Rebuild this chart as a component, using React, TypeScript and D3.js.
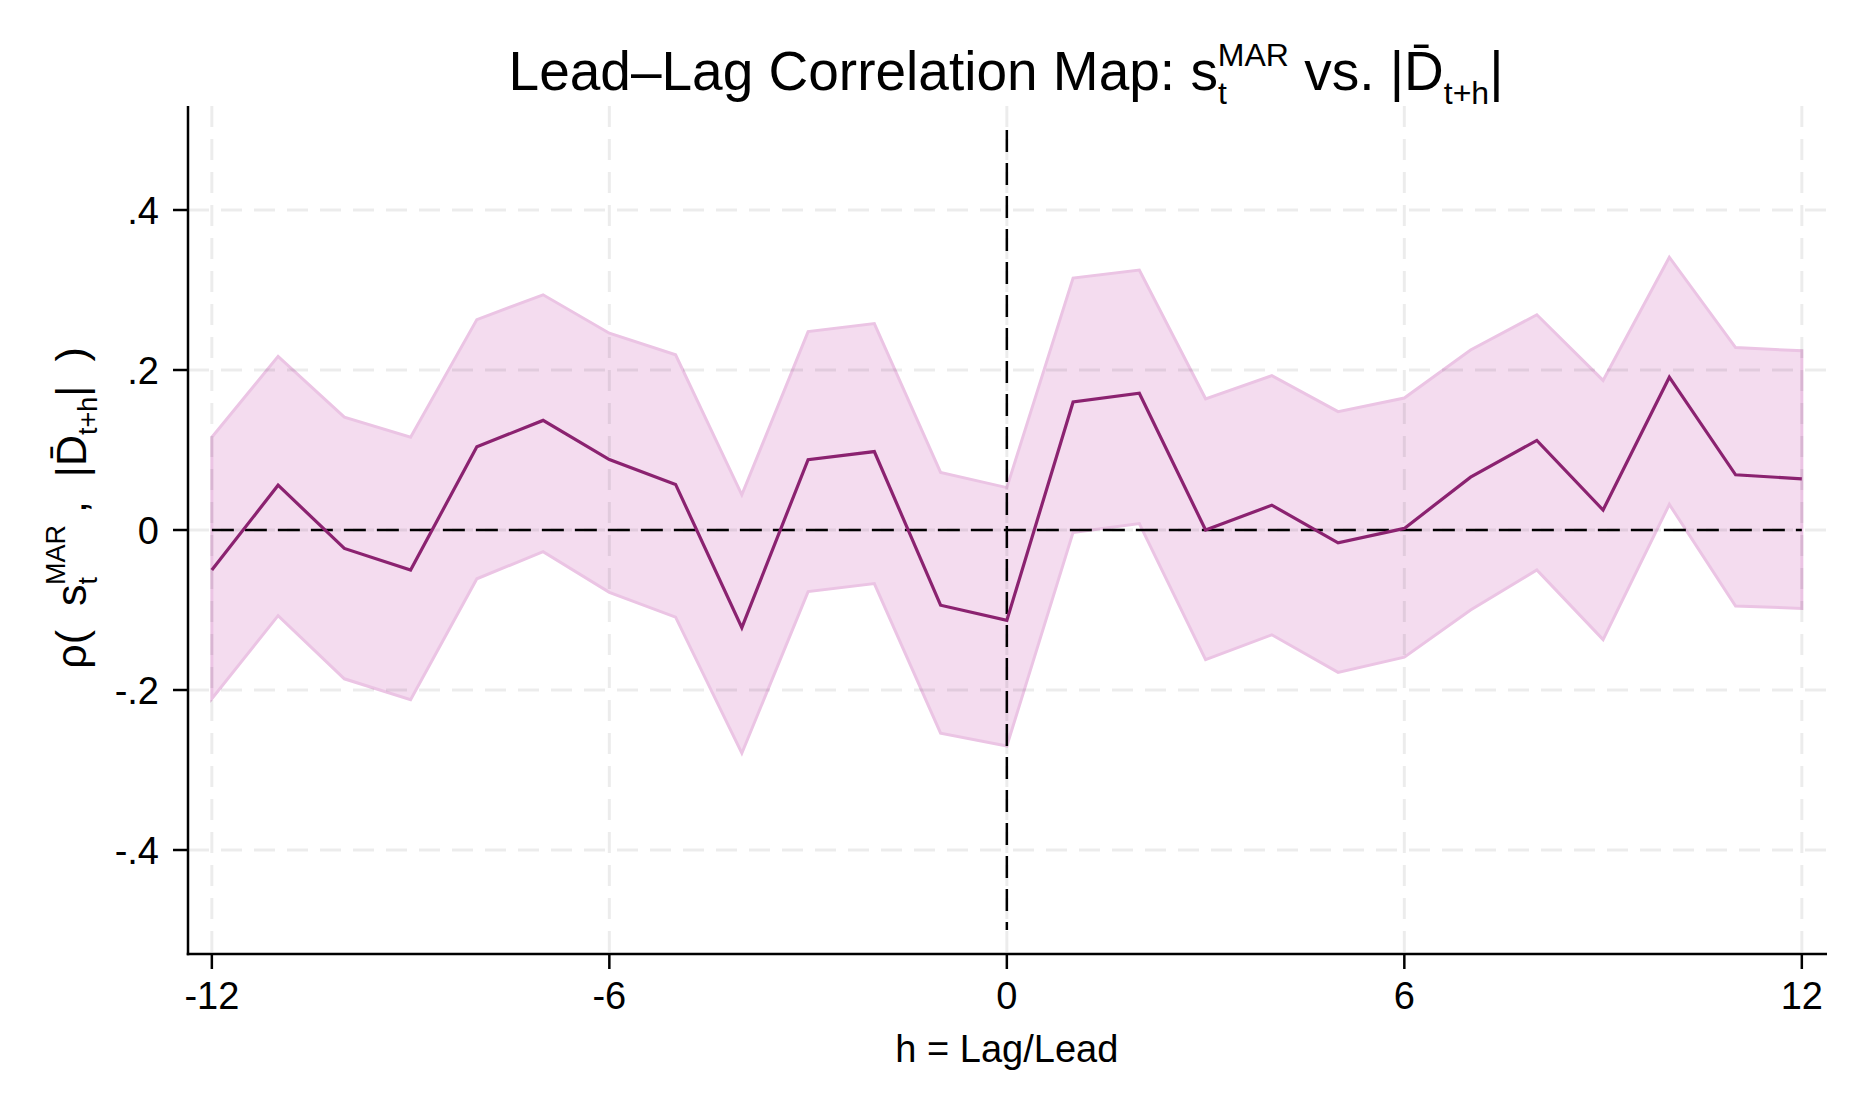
import React from 'react';
import * as d3 from 'd3';

// lag / lead horizon
const lags = [-12, -11, -10, -9, -8, -7, -6, -5, -4, -3, -2, -1, 0, 1, 2, 3, 4, 5, 6, 7, 8, 9, 10, 11, 12];
// point estimate of the correlation
const rho = [-0.050, 0.056, -0.023, -0.050, 0.104, 0.137, 0.088, 0.057, -0.122, 0.088, 0.098, -0.094, -0.113,
  0.160, 0.171, 0.000, 0.031, -0.016, 0.002, 0.066, 0.112, 0.025, 0.191, 0.069, 0.064];
// confidence band
const upper = [0.116, 0.217, 0.141, 0.116, 0.263, 0.294, 0.246, 0.219, 0.044, 0.248, 0.258, 0.072, 0.053,
  0.315, 0.325, 0.164, 0.193, 0.148, 0.165, 0.225, 0.269, 0.187, 0.341, 0.228, 0.224];
const lower = [-0.211, -0.107, -0.186, -0.212, -0.061, -0.027, -0.078, -0.109, -0.279, -0.077, -0.067, -0.254, -0.270,
  -0.003, 0.008, -0.162, -0.131, -0.178, -0.159, -0.100, -0.050, -0.137, 0.032, -0.095, -0.098];

const xTicks = [-12, -6, 0, 6, 12];
const xTickLabels = ['-12', '-6', '0', '6', '12'];
const yTicks = [-0.4, -0.2, 0, 0.2, 0.4];
const yTickLabels = ['-.4', '-.2', '0', '.2', '.4'];

const W = 1866;
const H = 1118;
const FONT = '"Liberation Sans", Helvetica, Arial, sans-serif';

const App: React.FC = () => {
  const left = 188, right = 1827, top = 106, bottom = 954;

  const x = d3.scaleLinear().domain([-12.36, 12.38]).range([left, right]);
  const y = d3.scaleLinear().domain([-0.53, 0.53]).range([bottom, top]);

  const rows = lags.map((h, i) => ({ h, r: rho[i], lo: lower[i], hi: upper[i] }));

  const band = d3.area<typeof rows[0]>()
    .x(d => x(d.h))
    .y0(d => y(d.lo))
    .y1(d => y(d.hi));

  const line = d3.line<typeof rows[0]>()
    .x(d => x(d.h))
    .y(d => y(d.r));

  const gridColor = 'rgba(0,0,0,0.075)';

  return (
    <svg width={W} height={H} style={{ position: 'absolute', left: 0, top: 0, background: '#fff' }}
      fontFamily={FONT}>
      <rect width={W} height={H} fill="#fff" />

      {/* band */}
      <path d={band(rows) ?? ''} fill="#f4dcef" stroke="#ebc4e4" strokeWidth={3} strokeLinejoin="miter" />

      {/* grid */}
      {xTicks.map(t => (
        <line key={'gx' + t} x1={x(t)} x2={x(t)} y1={top} y2={bottom}
          stroke={gridColor} strokeWidth={3} strokeDasharray="21,12" />
      ))}
      {yTicks.map(t => (
        <line key={'gy' + t} x1={left} x2={right} y1={y(t)} y2={y(t)}
          stroke={gridColor} strokeWidth={3} strokeDasharray="21,12" />
      ))}

      {/* reference lines */}
      <line x1={x(-12)} x2={x(12)} y1={y(0)} y2={y(0)} stroke="#000" strokeWidth={2.5} strokeDasharray="22,11" />
      <line x1={x(0)} x2={x(0)} y1={y(0.5)} y2={y(-0.5)} stroke="#000" strokeWidth={2.5} strokeDasharray="22,11" />

      {/* estimate */}
      <path d={line(rows) ?? ''} fill="none" stroke="#8b2270" strokeWidth={3.2} strokeLinejoin="miter" />

      {/* axes */}
      <line x1={left} x2={left} y1={top} y2={bottom + 1.25} stroke="#000" strokeWidth={2.5} />
      <line x1={left - 1.25} x2={right} y1={bottom} y2={bottom} stroke="#000" strokeWidth={2.5} />

      {xTicks.map((t, i) => (
        <g key={'tx' + t}>
          <line x1={x(t)} x2={x(t)} y1={bottom} y2={bottom + 15} stroke="#000" strokeWidth={2.5} />
          <text x={x(t)} y={1009} fontSize={38} textAnchor="middle">{xTickLabels[i]}</text>
        </g>
      ))}
      {yTicks.map((t, i) => (
        <g key={'ty' + t}>
          <line x1={left - 15} x2={left} y1={y(t)} y2={y(t)} stroke="#000" strokeWidth={2.5} />
          <text x={159} y={y(t)} dy="0.36em" fontSize={38} textAnchor="end">{yTickLabels[i]}</text>
        </g>
      ))}

      {/* axis titles */}
      <text x={x(0)} y={1062} fontSize={38} textAnchor="middle">h = Lag/Lead</text>
      <text transform={`translate(86,${(top + bottom) / 2 - 22}) rotate(-90)`} fontSize={43} textAnchor="middle"
        style={{ whiteSpace: 'pre' }}>
        <tspan>{'ρ(  s'}</tspan>
        <tspan fontSize={27} dy={11}>t</tspan>
        <tspan fontSize={27} dx={-8} dy={-32}>MAR</tspan>
        <tspan dy={21}>{' ,  |D̄'}</tspan>
        <tspan fontSize={27} dy={11}>t+h</tspan>
        <tspan dy={-11}>{'|  )'}</tspan>
      </text>

      {/* title */}
      <text x={1006} y={90} fontSize={55} textAnchor="middle">
        <tspan>Lead–Lag Correlation Map: s</tspan>
        <tspan fontSize={32} dy={14}>t</tspan>
        <tspan fontSize={32} dx={-9} dy={-38}>MAR</tspan>
        <tspan dy={24}> vs. |D̄</tspan>
        <tspan fontSize={32} dy={14}>t+h</tspan>
        <tspan dy={-14}>|</tspan>
      </text>
    </svg>
  );
};

export default App;
